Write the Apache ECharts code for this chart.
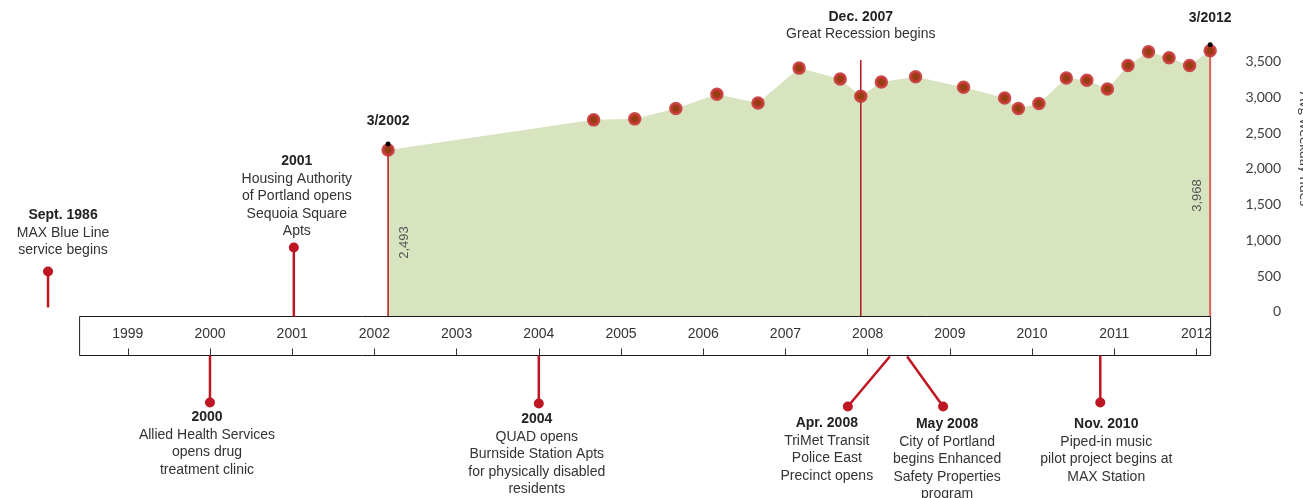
<!DOCTYPE html>
<html>
<head>
<meta charset="utf-8">
<script src="https://cdn.jsdelivr.net/npm/echarts@6/dist/echarts.min.js"></script>
<style>
html, body { margin: 0; padding: 0; background: #fff; }
#chart { width: 1303px; height: 498px; }
</style>
</head>
<body>
<div id="chart"></div>
<script>
// average weekday rides, sampled months
var months = ['2002-03', '2004-09', '2005-03', '2005-09', '2006-03', '2006-09', '2007-03', '2007-09',
    '2007-12', '2008-03', '2008-08', '2009-03', '2009-09', '2009-11', '2010-02', '2010-06',
    '2010-09', '2010-12', '2011-03', '2011-06', '2011-09', '2011-12', '2012-03'];
var rides = [2493, 2941, 2956, 3110, 3322, 3193, 3711, 3548,
    3292, 3504, 3583, 3425, 3267, 3110, 3184, 3563,
    3529, 3400, 3751, 3955, 3865, 3751, 3968];

var yearTicks = [1999, 2000, 2001, 2002, 2003, 2004, 2005, 2006, 2007, 2008, 2009, 2010, 2011, 2012];

// highlighted months on the ridership area
var markMonths = ['2002-03', '2007-12', '2012-03'];
var markTitles = ['3/2002', 'Dec. 2007', '3/2012'];
var markNotes = ['', 'Great Recession begins', ''];
var markLabels = ['2,493', '', '3,968'];
var markHeights = [2493, 3830, 3968];

// events on the timeline strip
var eventTitles = ['Sept. 1986', '2000', '2001', '2004', 'Apr. 2008', 'May 2008', 'Nov. 2010'];
var eventTexts = [
    ['MAX Blue Line', 'service begins'],
    ['Allied Health Services', 'opens drug', 'treatment clinic'],
    ['Housing Authority', 'of Portland opens', 'Sequoia Square', 'Apts'],
    ['QUAD opens', 'Burnside Station Apts', 'for physically disabled', 'residents'],
    ['TriMet Transit', 'Police East', 'Precinct opens'],
    ['City of Portland', 'begins Enhanced', 'Safety Properties', 'program'],
    ['Piped-in music', 'pilot project begins at', 'MAX Station']
];
var eventAnchors = [1998.03, 2000, 2001.02, 2004, 2008.27, 2008.48, 2010.83];
var eventSides = ['up', 'down', 'up', 'down', 'down', 'down', 'down'];

// layout only: [stem start dy, dot dx, dot dy, text dx, text dy]
var eventLayout = [
    [-9, 0, -45, 15, -101],
    [0, 0, 47, -3, 62],
    [0, 0, -69, 3, -155],
    [0, 0, 48, -2, 64],
    [1, -42, 51, -63, 68],
    [1, 36, 51, 40, 69],
    [0, 0, 47, 6, 69]
];
// layout only: [cap extension, title dy, value label dx, value label dy]
var markLayout = [
    [6, -29, 16, -75],
    [0, -43, 0, 0],
    [5, -33, -13, -122]
];

var RED = '#be1622';
var FONT = '"Liberation Sans", Arial, sans-serif';
var X_MIN = 1998.414, X_MAX = 2012.172;

function monthToYear(s) {
    var p = s.split('-');
    return +p[0] + (p[1] - 1) / 12;
}

var ridePoints = months.map(function (m, i) { return [monthToYear(m), rides[i]]; });
var capPoints = [];
markMonths.forEach(function (m, i) {
    if (markLabels[i]) capPoints.push([monthToYear(m), markHeights[i]]);
});

function textEl(x, y, txt, font, color, rot) {
    return {
        type: 'text', x: x, y: y, rotation: rot || 0,
        style: { text: txt, font: font, fill: color, align: 'center', verticalAlign: 'middle' }
    };
}

function renderEvent(params, api) {
    var i = params.dataIndex;
    var L = eventLayout[i];
    var up = eventSides[i] === 'up';
    var p = api.coord([eventAnchors[i], up ? 1 : 0]);
    var x0 = p[0];
    var dotX = x0 + L[1], dotY = p[1] + L[2];
    var kids = [
        { type: 'line', shape: { x1: x0, y1: p[1] + L[0], x2: dotX, y2: dotY },
          style: { stroke: RED, lineWidth: 2.5 } },
        { type: 'circle', shape: { cx: dotX, cy: dotY, r: 5 }, style: { fill: RED } }
    ];
    var tx = x0 + L[3], ty = p[1] + L[4];
    kids.push(textEl(tx, ty, eventTitles[i], 'bold 14px ' + FONT, '#222'));
    eventTexts[i].forEach(function (t, j) {
        kids.push(textEl(tx, ty + (j + 1) * 17.4, t, '14px ' + FONT, '#333'));
    });
    return { type: 'group', children: kids };
}

function renderMark(params, api) {
    var i = params.dataIndex;
    var L = markLayout[i];
    var x = monthToYear(markMonths[i]);
    var base = api.coord([x, 0]);
    var top = api.coord([x, markHeights[i]]);
    var last = i === markMonths.length - 1;
    var kids = [
        { type: 'line', shape: { x1: base[0], y1: base[1], x2: top[0], y2: top[1] - L[0] },
          style: { stroke: last ? 'rgba(220,70,70,0.85)' : '#b0191e', lineWidth: last ? 2 : 1.5 } },
        textEl(top[0], top[1] + L[1], markTitles[i], 'bold 14px ' + FONT, '#222')
    ];
    if (markNotes[i]) {
        kids.push(textEl(top[0], top[1] + L[1] + 17.4, markNotes[i], '14px ' + FONT, '#333'));
    }
    if (markLabels[i]) {
        kids.push(textEl(base[0] + L[2], base[1] + L[3], markLabels[i], '13px ' + FONT, '#555', Math.PI / 2));
    }
    return { type: 'group', children: kids };
}

var chart = echarts.init(document.getElementById('chart'));
chart.setOption({
    animation: false,
    backgroundColor: '#fff',
    grid: [
        { left: 79.6, top: 48.7, width: 1131, height: 268.8, outerBoundsMode: 'none' },
        { left: 79.6, top: 316.5, width: 1131, height: 39, outerBoundsMode: 'none', show: true,
          borderColor: '#1a1a1a', borderWidth: 1, backgroundColor: '#fff', z: 5 },
        { left: 79.6, top: 61.7, width: 1131, height: 250, outerBoundsMode: 'none' }
    ],
    xAxis: [
        { type: 'value', gridIndex: 0, min: X_MIN, max: X_MAX, show: false },
        { type: 'value', gridIndex: 1, min: X_MIN, max: X_MAX, position: 'bottom', z: 6,
          axisLine: { show: false }, splitLine: { show: false },
          axisTick: { show: true, inside: true, length: 7, customValues: yearTicks,
                      lineStyle: { color: '#333', width: 1 } },
          axisLabel: { show: true, inside: true, margin: 14, customValues: yearTicks,
                       formatter: function (v) { return String(v); },
                       fontFamily: FONT, fontSize: 14, color: '#333' } },
        { type: 'value', gridIndex: 2, min: 0, max: 1, show: false }
    ],
    yAxis: [
        { type: 'value', gridIndex: 0, min: 0, max: 4000, show: false },
        { type: 'value', gridIndex: 1, min: 0, max: 1, show: false },
        { type: 'value', gridIndex: 2, min: 0, max: 3500, interval: 500, position: 'right',
          axisLine: { show: false }, axisTick: { show: false }, splitLine: { show: false },
          axisLabel: { align: 'right', margin: 70.5, fontFamily: 'Lato', fontSize: 14, color: '#404040' } }
    ],
    graphic: [
        { type: 'text', x: 1305, y: 149, rotation: -Math.PI / 2,
          style: { text: 'Avg weekday rides', font: '14px Lato', fill: '#404040',
                   align: 'center', verticalAlign: 'middle' } }
    ],
    series: [
        { type: 'line', name: 'rides area', xAxisIndex: 0, yAxisIndex: 0, data: ridePoints,
          symbol: 'none', lineStyle: { width: 0 }, silent: true, z: 1,
          areaStyle: { color: '#d8e4bf', opacity: 1 } },
        { type: 'custom', name: 'marks', xAxisIndex: 0, yAxisIndex: 0, clip: false, z: 3,
          data: markMonths.map(function (m, i) { return [monthToYear(m), markHeights[i]]; }),
          renderItem: renderMark },
        { type: 'scatter', name: 'rides', xAxisIndex: 0, yAxisIndex: 0, data: ridePoints, z: 4,
          symbolSize: 10,
          itemStyle: { color: '#94400e', borderColor: 'rgba(196,52,52,0.88)', borderWidth: 3.5, opacity: 1 } },
        { type: 'scatter', name: 'caps', xAxisIndex: 0, yAxisIndex: 0, data: capPoints, z: 5,
          symbolSize: 5, symbolOffset: [0, -6], itemStyle: { color: '#000', opacity: 1 } },
        { type: 'custom', name: 'events', xAxisIndex: 1, yAxisIndex: 1, clip: false, z: 6,
          data: eventAnchors.map(function (a, i) { return [a, i]; }),
          renderItem: renderEvent }
    ]
});
</script>
</body>
</html>
